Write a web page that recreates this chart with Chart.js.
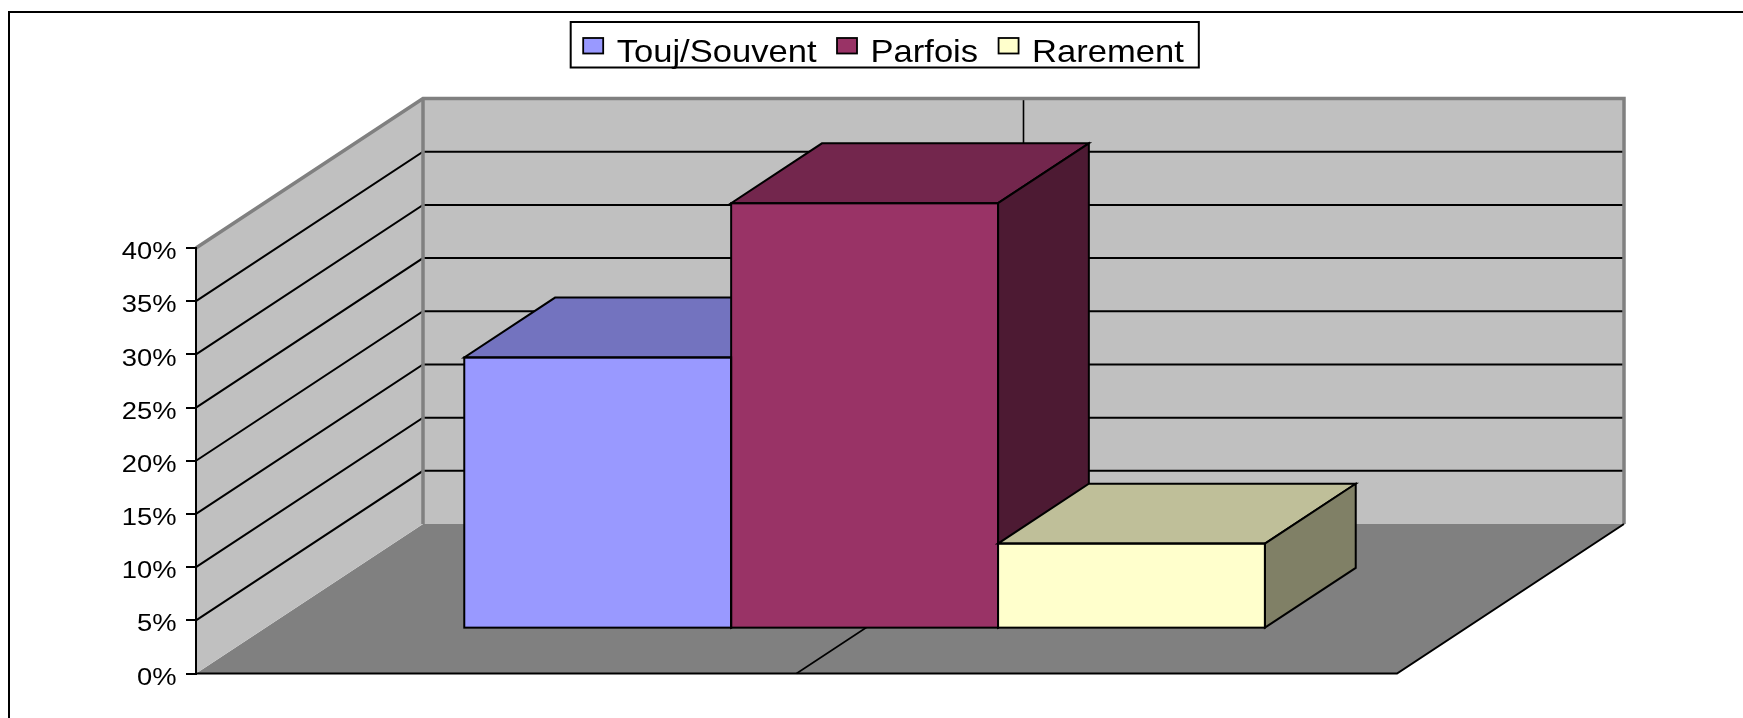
<!DOCTYPE html>
<html>
<head>
<meta charset="utf-8">
<title>Fréquence</title>
<script src="https://cdn.jsdelivr.net/npm/chart.js@4.4.1/dist/chart.umd.min.js"></script>
<style>
  html, body { margin: 0; padding: 0; background: #fff; }
</style>
</head>
<body>
<canvas id="myChart" width="1743" height="718"></canvas>
<script>
// data (percent)
const categories = [''];
const seriesNames = ['Touj/Souvent', 'Parfois', 'Rarement'];
const toujValues = [25.5];
const parfoisValues = [40];
const rarementValues = [8];
const yTickLabels = ['0%', '5%', '10%', '15%', '20%', '25%', '30%', '35%', '40%'];

// colours: front, top, side
const frontColors = ['#9999FF', '#993366', '#FFFFCC'];
const topColors = ['#7373BF', '#73264D', '#BFBF99'];
const sideColors = ['#4D4D80', '#4D1A33', '#808066'];

// 3d look
const depthX = 227, depthY = -149.5;   // floor depth vector
const barFront = 0.3, barDepth = 0.4;  // where the bars sit in the depth
const fontFamily = "'Liberation Sans', Arial, sans-serif";

function poly(ctx, pts, fill, stroke) {
  ctx.beginPath();
  ctx.moveTo(pts[0][0], pts[0][1]);
  for (let i = 1; i < pts.length; i++) ctx.lineTo(pts[i][0], pts[i][1]);
  ctx.closePath();
  if (fill) { ctx.fillStyle = fill; ctx.fill(); }
  if (stroke) ctx.stroke();
}

function line(ctx, pts) {
  ctx.beginPath();
  ctx.moveTo(pts[0][0], pts[0][1]);
  for (let i = 1; i < pts.length; i++) ctx.lineTo(pts[i][0], pts[i][1]);
  ctx.stroke();
}

// text stretched sideways like the original
function wideText(ctx, text, x, y, sx, align) {
  ctx.save();
  ctx.translate(x, y);
  ctx.scale(sx, 1);
  ctx.textAlign = align;
  ctx.fillText(text, 0, 0);
  ctx.restore();
}

const box3d = {
  id: 'box3d',
  beforeDraw(chart) {
    const ctx = chart.ctx;
    const a = chart.chartArea;
    const x = chart.scales.x, y = chart.scales.y;
    const L = a.left, R = a.right;
    const T = y.getPixelForValue(y.max), B = y.getPixelForValue(0);
    ctx.save();
    // frame round the whole chart
    ctx.strokeStyle = '#000';
    ctx.lineWidth = 2;
    ctx.strokeRect(9, 12, chart.width + 20, chart.height + 20);

    // floor and walls
    poly(ctx, [[L, B], [R, B], [R + depthX, B + depthY], [L + depthX, B + depthY]], '#808080');
    poly(ctx, [[L, B], [L, T], [L + depthX, T + depthY], [L + depthX, B + depthY]], '#C0C0C0');
    poly(ctx, [[L + depthX, T + depthY], [R + depthX, T + depthY], [R + depthX, B + depthY], [L + depthX, B + depthY]], '#C0C0C0');

    // gridlines on the walls
    ctx.strokeStyle = '#000';
    ctx.lineWidth = 2;
    y.ticks.forEach(t => {
      if (t.value <= 0 || t.value >= y.max) return;
      const py = y.getPixelForValue(t.value);
      line(ctx, [[L, py], [L + depthX, py + depthY], [R + depthX, py + depthY]]);
    });
    // category line
    ctx.lineWidth = 1.6;
    const cx = x.getPixelForValue(0);
    line(ctx, [[cx, B], [cx + depthX, B + depthY], [cx + depthX, T + depthY]]);

    // grey wall edges
    ctx.strokeStyle = '#808080';
    ctx.lineWidth = 3.5;
    line(ctx, [[L, T], [L + depthX, T + depthY], [R + depthX, T + depthY], [R + depthX, B + depthY]]);
    line(ctx, [[L + depthX, T + depthY], [L + depthX, B + depthY]]);

    // floor edges
    ctx.strokeStyle = '#000';
    ctx.lineWidth = 2;
    line(ctx, [[L, B], [R, B], [R + depthX, B + depthY]]);
    ctx.restore();
  },
  beforeDatasetDraw(chart) {
    chart.ctx.save();
    chart.ctx.translate(depthX * barFront, depthY * barFront);
  },
  afterDatasetDraw(chart) {
    chart.ctx.restore();
  },
  afterDatasetsDraw(chart) {
    const ctx = chart.ctx;
    const dx = depthX * barDepth, dy = depthY * barDepth;
    const bars = [];
    chart.data.datasets.forEach((ds, i) => {
      chart.getDatasetMeta(i).data.forEach(el => {
        const p = el.getProps(['x', 'y', 'base', 'width'], true);
        bars.push({ i, l: p.x - p.width / 2, r: p.x + p.width / 2, y: p.y, base: p.base });
      });
    });
    ctx.save();
    ctx.translate(depthX * barFront, depthY * barFront);
    ctx.strokeStyle = '#000';
    ctx.lineWidth = 2;
    ctx.lineJoin = 'miter';
    bars.forEach((b, k) => {
      ctx.save();
      // later bars hide the top and side of this one
      ctx.beginPath();
      ctx.rect(-500, -500, chart.width + 1000, chart.height + 1000);
      bars.slice(k + 1).forEach(o => {
        ctx.moveTo(o.l, o.base);
        ctx.lineTo(o.l, o.y);
        ctx.lineTo(o.l + dx, o.y + dy);
        ctx.lineTo(o.r + dx, o.y + dy);
        ctx.lineTo(o.r, o.y);
        ctx.lineTo(o.r, o.base);
        ctx.closePath();
      });
      ctx.clip('evenodd');
      poly(ctx, [[b.l, b.y], [b.r, b.y], [b.r + dx, b.y + dy], [b.l + dx, b.y + dy]], topColors[b.i], true);
      poly(ctx, [[b.r, b.y], [b.r + dx, b.y + dy], [b.r + dx, b.base + dy], [b.r, b.base]], sideColors[b.i], true);
      ctx.restore();
    });
    bars.forEach(b => {
      ctx.strokeRect(b.l, b.y, b.r - b.l, b.base - b.y);
    });
    ctx.restore();
  },
  afterDraw(chart) {
    const ctx = chart.ctx;
    const y = chart.scales.y;
    ctx.save();
    ctx.fillStyle = '#000';

    // value axis labels
    ctx.font = '24px ' + fontFamily;
    ctx.textBaseline = 'middle';
    y.ticks.forEach((t, i) => {
      wideText(ctx, yTickLabels[i], y.right - 19.5, y.getPixelForValue(t.value) + 4.5, 1.14, 'right');
    });

    // legend in a framed box
    const ds = chart.data.datasets;
    const sx = 1.08;
    ctx.font = '32px ' + fontFamily;
    ctx.textBaseline = 'alphabetic';
    const keyW = 20, keyH = 15.5, keyGap = 13.5, itemGap = 20.5, padL = 12.5, padR = 15;
    const widths = ds.map(d => ctx.measureText(d.label).width * sx);
    let total = padL + padR + itemGap * (ds.length - 1);
    widths.forEach(w => { total += keyW + keyGap + w; });
    const x0 = 884.75 - total / 2;
    ctx.strokeStyle = '#000';
    ctx.lineWidth = 2;
    ctx.strokeRect(x0, 22, total, 45.5);
    let cx = x0 + padL;
    ds.forEach((d, i) => {
      ctx.fillStyle = d.backgroundColor;
      ctx.fillRect(cx, 38, keyW, keyH);
      ctx.lineWidth = 1.8;
      ctx.strokeRect(cx, 38, keyW, keyH);
      cx += keyW + keyGap;
      ctx.fillStyle = '#000';
      wideText(ctx, d.label, cx, 61.5, sx, 'left');
      cx += widths[i] + itemGap;
    });
    ctx.restore();
  }
};

Chart.defaults.font.family = fontFamily;
Chart.defaults.color = '#000';

const ctx = document.getElementById('myChart').getContext('2d');
const myChart = new Chart(ctx, {
  type: 'bar',
  data: {
    labels: categories,
    datasets: [
      { label: seriesNames[0], data: toujValues, backgroundColor: frontColors[0] },
      { label: seriesNames[1], data: parfoisValues, backgroundColor: frontColors[1] },
      { label: seriesNames[2], data: rarementValues, backgroundColor: frontColors[2] }
    ]
  },
  options: {
    responsive: false,
    animation: false,
    devicePixelRatio: 1,
    layout: { padding: { left: 0, right: 346, top: 248, bottom: 44.5 } },
    datasets: {
      bar: { categoryPercentage: 2 / 3, barPercentage: 1, borderWidth: 0, clip: false }
    },
    plugins: {
      legend: { display: false },
      tooltip: { enabled: false }
    },
    scales: {
      x: { display: false, offset: true },
      y: {
        min: 0,
        max: 40,
        ticks: {
          stepSize: 5,
          padding: 4.5,
          color: 'rgba(0,0,0,0)',
          font: { size: 22 },
          callback: (v, i) => yTickLabels[i]
        },
        grid: { drawOnChartArea: false, drawTicks: true, tickLength: 10, color: '#000', lineWidth: 2 },
        border: { display: true, color: '#000', width: 2 },
        afterFit(scale) { scale.width = 196; }
      }
    }
  },
  plugins: [box3d]
});
</script>
</body>
</html>
